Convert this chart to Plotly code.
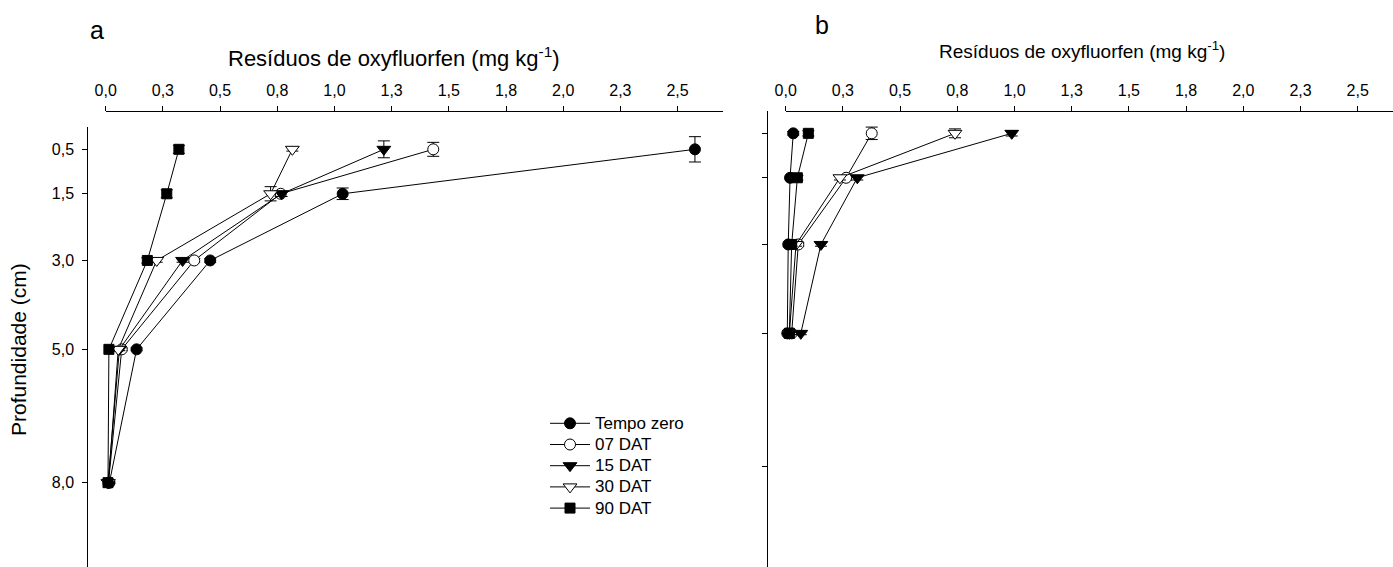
import plotly.graph_objects as go

# ---------------- data ----------------
depth_a = [0.5, 1.5, 3.0, 5.0, 8.0]
depth_b = [0.5, 1.5, 3.0, 5.0]

series_names = ["Tempo zero", "07 DAT", "15 DAT", "30 DAT", "90 DAT"]

# panel a residues (mg/kg)
a_tempo_zero = [2.576, 1.036, 0.457, 0.135, 0.016]
a_07dat = [1.432, 0.765, 0.387, 0.070, 0.012]
a_15dat = [1.216, 0.769, 0.336, 0.060, 0.010]
a_30dat = [0.816, 0.721, 0.223, 0.055, 0.012]
a_90dat = [0.320, 0.267, 0.182, 0.014, 0.010]

# error bars (drawn along depth axis in the original)
a_err_tempo_zero = [0.285, 0.13, 0.04, 0.03, 0.02]
a_err_07dat = [0.157, 0.06, 0.04, 0.03, 0.02]
a_err_15dat = [0.19, 0.06, 0.04, 0.03, 0.02]
a_err_30dat = [0.04, 0.16, 0.04, 0.03, 0.02]
a_err_90dat = [0.09, 0.09, 0.06, 0.04, 0.02]

# panel b residues (mg/kg)
b_tempo_zero = [0.033, 0.019, 0.011, 0.007]
b_07dat = [0.376, 0.264, 0.055, 0.026]
b_15dat = [0.988, 0.313, 0.154, 0.066]
b_30dat = [0.740, 0.237, 0.045, 0.016]
b_90dat = [0.099, 0.051, 0.026, 0.016]

b_err_tempo_zero = [0.04, 0.04, 0.03, 0.02]
b_err_07dat = [0.14, 0.05, 0.04, 0.03]
b_err_15dat = [0.06, 0.05, 0.04, 0.03]
b_err_30dat = [0.10, 0.05, 0.04, 0.03]
b_err_90dat = [0.06, 0.05, 0.04, 0.03]

x_tickvals = [0, 0.25, 0.5, 0.75, 1.0, 1.25, 1.5, 1.75, 2.0, 2.25, 2.5]
x_ticktext = ["0,0", "0,3", "0,5", "0,8", "1,0", "1,3", "1,5", "1,8", "2,0", "2,3", "2,5"]
y_tickvals = [0.5, 1.5, 3.0, 5.0, 8.0]
y_ticktext = ["0,5", "1,5", "3,0", "5,0", "8,0"]

# ---------------- styles ----------------
FONT = "Arial, 'Liberation Sans', sans-serif"
W, H = 1393, 567

styles = {
    "Tempo zero": dict(symbol="circle", color="black", size=11),
    "07 DAT": dict(symbol="circle", color="white", size=11),
    "15 DAT": dict(symbol="triangle-down", color="black", size=12),
    "30 DAT": dict(symbol="triangle-down", color="white", size=12),
    "90 DAT": dict(symbol="square", color="black", size=10),
}

a_vals = [a_tempo_zero, a_07dat, a_15dat, a_30dat, a_90dat]
a_errs = [a_err_tempo_zero, a_err_07dat, a_err_15dat, a_err_30dat, a_err_90dat]
b_vals = [b_tempo_zero, b_07dat, b_15dat, b_30dat, b_90dat]
b_errs = [b_err_tempo_zero, b_err_07dat, b_err_15dat, b_err_30dat, b_err_90dat]

fig = go.Figure()


def add_series(name, xs, ys, errs, xa, ya, showlegend):
    st = styles[name]
    fig.add_trace(go.Scatter(
        x=xs, y=ys, name='<span style="font-size:17px">' + name + '</span>',
        mode="lines+markers",
        xaxis=xa, yaxis=ya, showlegend=showlegend, cliponaxis=False,
        line=dict(color="black", width=1),
        marker=dict(symbol=st["symbol"], size=st["size"], color=st["color"],
                    line=dict(color="black", width=1)),
        error_y=dict(type="data", array=errs, color="black", thickness=1, width=6),
    ))


for name, v, e in zip(series_names, a_vals, a_errs):
    add_series(name, v, depth_a, e, "x", "y", True)
for name, v, e in zip(series_names, b_vals, b_errs):
    add_series(name, v, depth_b, e, "x2", "y2", False)


# pixel geometry helpers
def px_x(p):
    return p / W


def px_y(p):
    return 1 - p / H


axis_common = dict(showline=True, linecolor="black", linewidth=1, ticks="outside",
                   ticklen=5, tickcolor="black", tickwidth=1, showgrid=False,
                   zeroline=False, automargin=False,
                   tickfont=dict(family=FONT, size=16, color="black"))


def ann(text, x, y, size, angle=0):
    return dict(text=text, x=px_x(x), y=px_y(y), xref="paper", yref="paper",
                xanchor="center", yanchor="middle", showarrow=False, textangle=angle,
                font=dict(family=FONT, size=size, color="black"))


fig.update_layout(
    width=W, height=H,
    margin=dict(l=0, r=0, t=0, b=0, autoexpand=False),
    paper_bgcolor="white", plot_bgcolor="white",
    font=dict(family=FONT, color="black"),
    xaxis=dict(domain=[px_x(105.7), px_x(723.3)], range=[0, 2.7], side="top",
               anchor="free", position=px_y(111), tickvals=x_tickvals,
               ticktext=x_ticktext, ticklabelstandoff=4, **axis_common),
    yaxis=dict(domain=[0, px_y(127.1)], range=[9.897, 0], anchor="free",
               position=px_x(87.3), tickvals=y_tickvals, ticktext=y_ticktext,
               ticklabelstandoff=5, **axis_common),
    xaxis2=dict(domain=[px_x(785.7), 1.0], range=[0, 2.6543], side="top",
                anchor="free", position=px_y(111), tickvals=x_tickvals,
                ticktext=x_ticktext, ticklabelstandoff=4, **axis_common),
    yaxis2=dict(domain=[0, px_y(111.1)], range=[10.256, 0], anchor="free",
                position=px_x(767.3), tickvals=y_tickvals, showticklabels=False,
                **axis_common),
    legend=dict(x=px_x(545), y=px_y(407.7), xanchor="left", yanchor="top",
                bgcolor="rgba(0,0,0,0)", font=dict(family=FONT, size=14, color="black"),
                itemwidth=40, tracegroupgap=0),
    annotations=[
        ann("a", 97, 30, 25),
        ann("b", 822, 25, 25),
        ann("Resíduos de oxyfluorfen (mg kg<sup>-1</sup>)", 394, 57, 22),
        ann("Resíduos de oxyfluorfen (mg kg<sup>-1</sup>)", 1082, 50, 19),
        ann("Profundidade (cm)", 18, 350, 21, -90),
    ],
)

fig.write_html("out.html")
